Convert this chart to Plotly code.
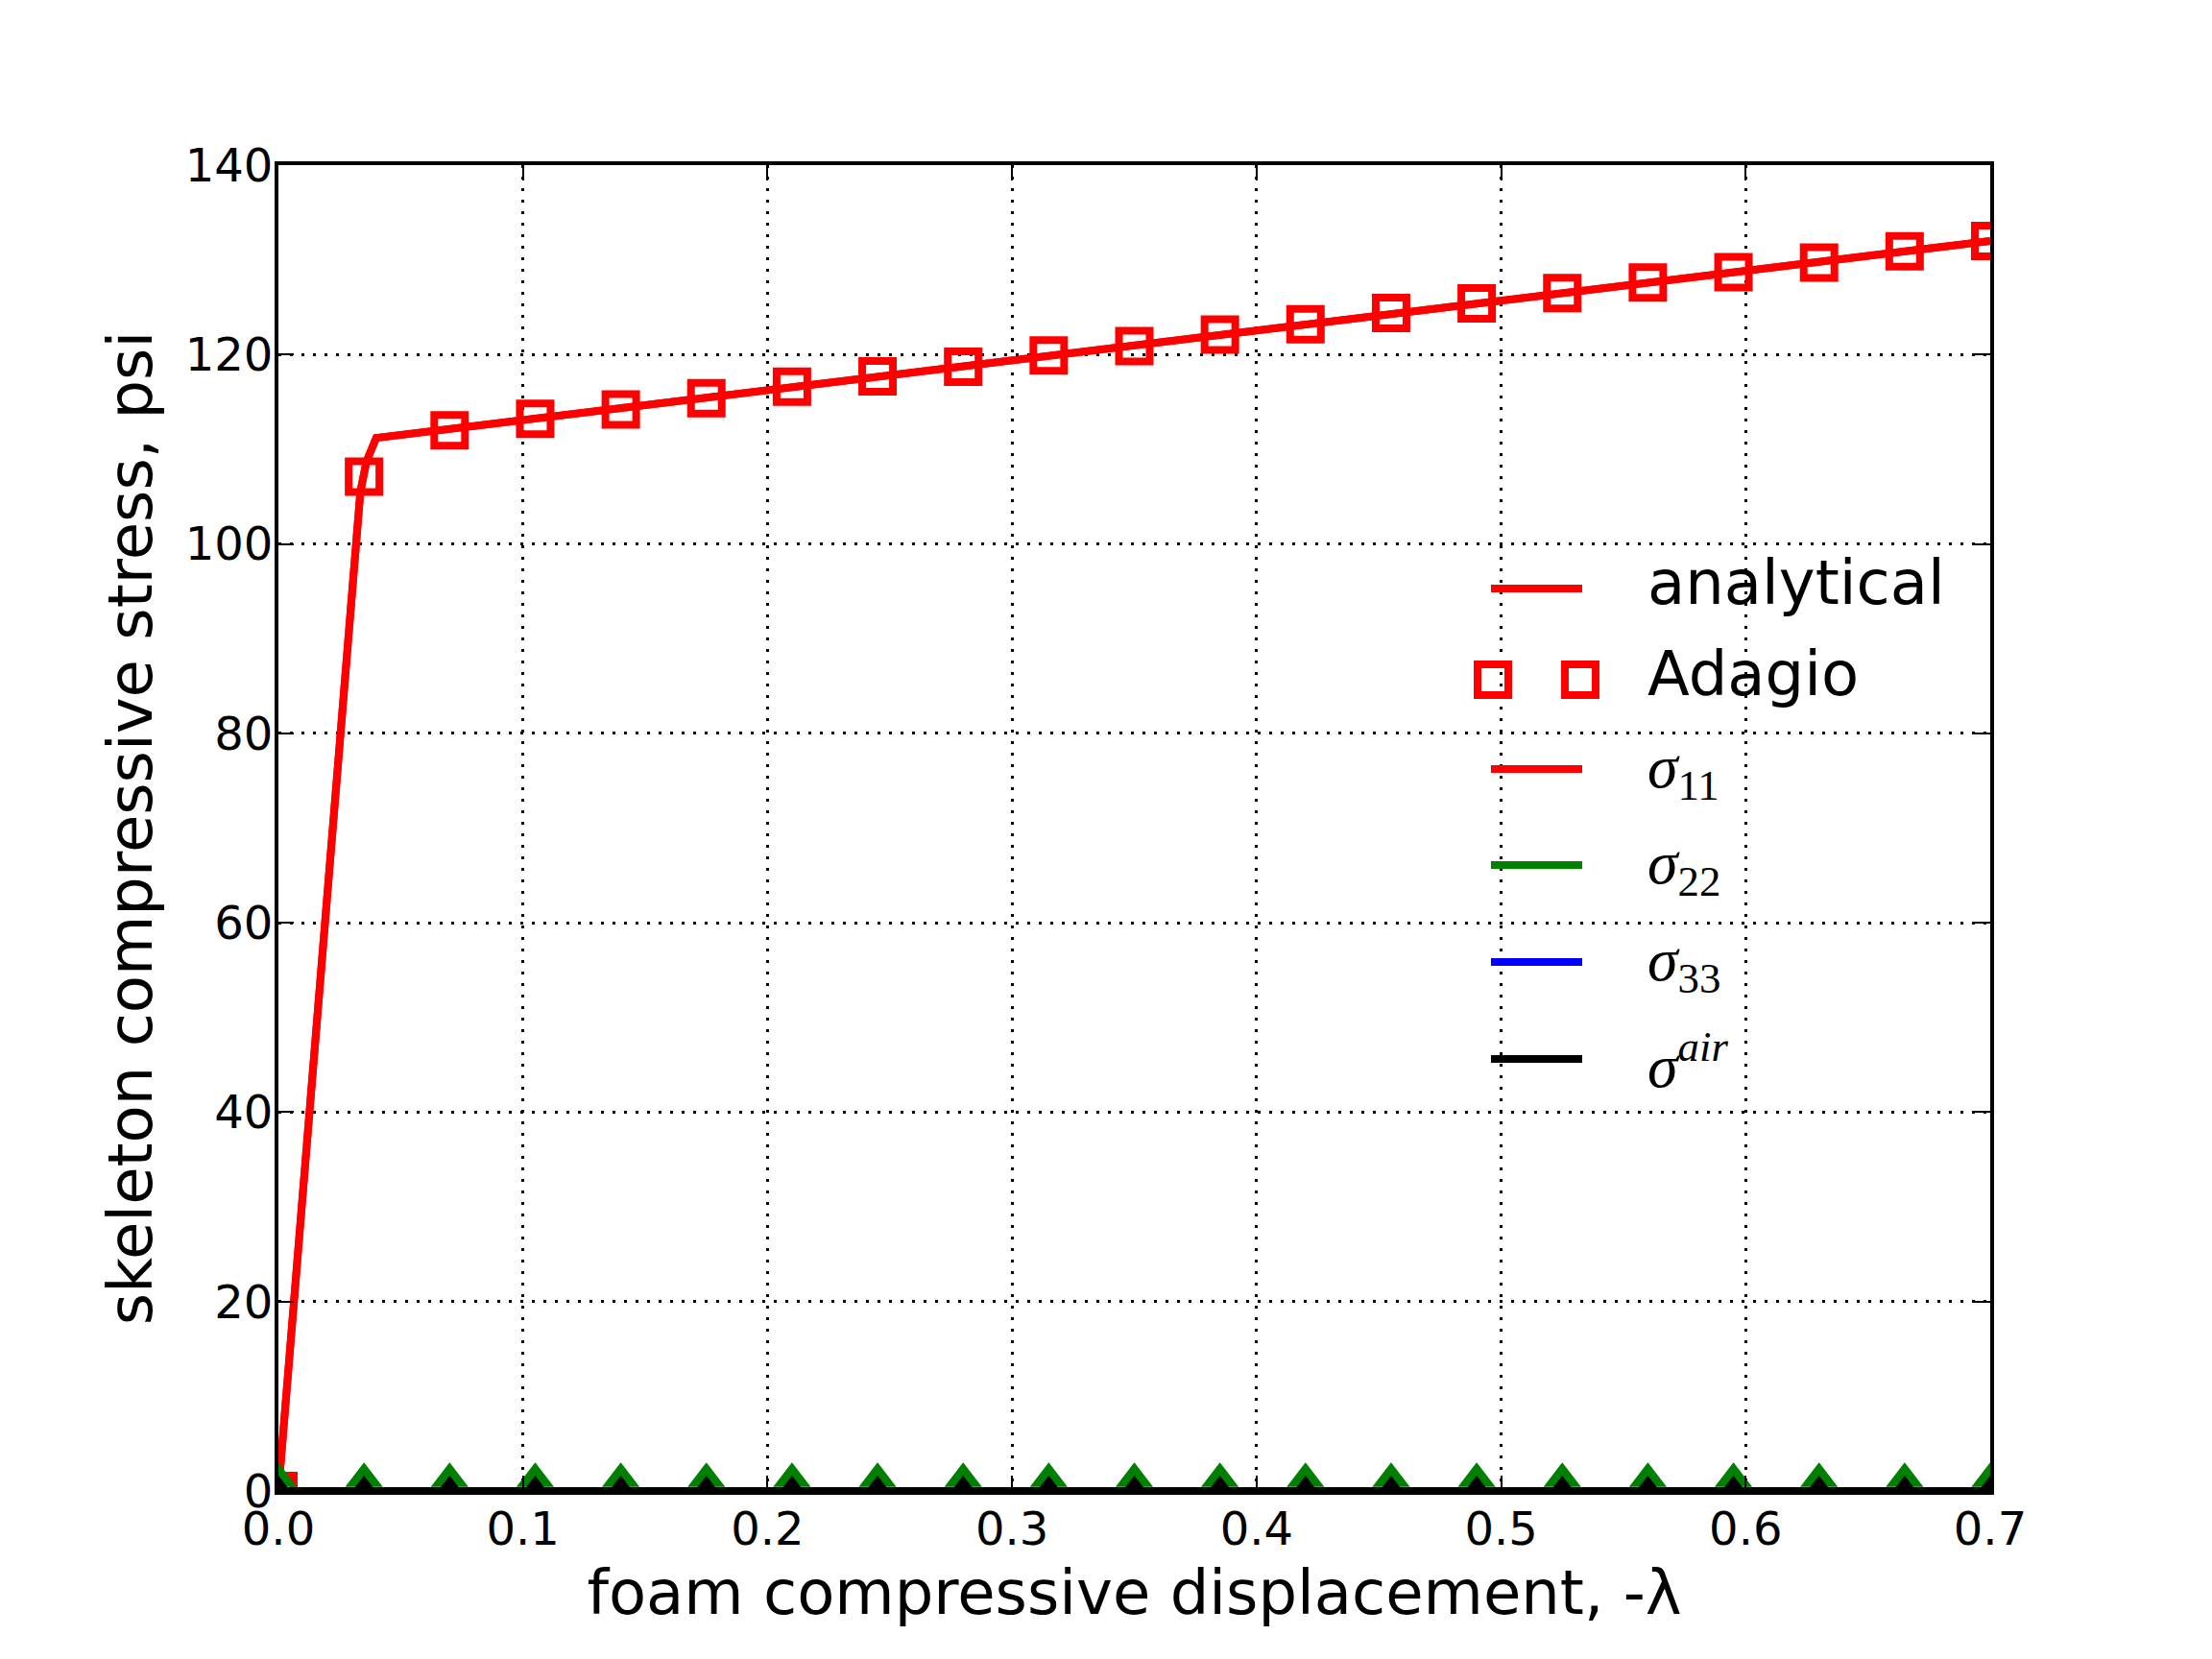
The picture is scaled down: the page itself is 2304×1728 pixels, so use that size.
import plotly.graph_objects as go

# ---------------- data ----------------
x_analytical = [0.0, 0.0335, 0.036, 0.040, 0.70]
y_analytical = [0.0, 105.5, 108.7, 111.2, 132.0]

x_adagio = [0.0, 0.035, 0.07, 0.105, 0.14, 0.175, 0.21, 0.245, 0.28, 0.315, 0.35,
            0.385, 0.42, 0.455, 0.49, 0.525, 0.56, 0.595, 0.63, 0.665, 0.70]
y_adagio = [0.0, 107.1, 112.0, 113.2, 114.2, 115.4, 116.6, 117.7, 118.7, 119.9, 120.9,
            122.1, 123.2, 124.4, 125.4, 126.5, 127.6, 128.7, 129.7, 130.9, 132.0]

y_sigma22 = [0.0] * 21
y_sigma33 = [0.0] * 21
y_sigma_air = [0.0] * 21
y_sigma22_pts = [1.3, 1.3, 1.3, 1.3, 1.3, 1.3, 1.3, 1.3, 1.3, 1.3, 1.3,
                 1.3, 1.3, 1.3, 1.3, 1.3, 1.3, 1.3, 1.3, 1.3, 1.3]
y_air_pts = [0.0, 0.0, 0.0, 0.0, 0.0, 0.0, 0.0, 0.0, 0.0, 0.0, 0.0,
             0.0, 0.0, 0.0, 0.0, 0.0, 0.0, 0.0, 0.0, 0.0, 0.0]

x_ticks = [0.0, 0.1, 0.2, 0.3, 0.4, 0.5, 0.6, 0.7]
y_ticks = [0, 20, 40, 60, 80, 100, 120, 140]

legend_labels = ["analytical", "Adagio", "<i>σ</i><sub>11</sub>", "<i>σ</i><sub>22</sub>",
                 "<i>σ</i><sub>33</sub>", "<i>σ</i><sup><i>air</i></sup>"]

RED, GREEN, BLUE, BLACK = "#ff0000", "#008000", "#0000ff", "#000000"

fig = go.Figure()
fig.add_trace(go.Scatter(x=x_analytical, y=y_analytical, mode="lines",
                         line=dict(color=RED, width=8), name="analytical"))
fig.add_trace(go.Scatter(x=x_adagio, y=y_adagio, mode="markers", name="Adagio",
                         marker=dict(symbol="square-open", size=32, color=RED,
                                     line=dict(color=RED, width=8))))
fig.add_trace(go.Scatter(x=x_analytical, y=y_analytical, mode="lines",
                         line=dict(color=RED, width=8), name="σ11"))
fig.add_trace(go.Scatter(x=x_adagio, y=y_sigma22, mode="lines",
                         line=dict(color=GREEN, width=8), name="σ22"))
fig.add_trace(go.Scatter(x=x_adagio, y=y_sigma22_pts, mode="markers",
                         marker=dict(symbol="triangle-up", size=34, color=GREEN,
                                     line=dict(width=0)), name="σ22 pts"))
fig.add_trace(go.Scatter(x=x_adagio, y=y_sigma33, mode="lines",
                         line=dict(color=BLUE, width=8), name="σ33"))
fig.add_trace(go.Scatter(x=x_adagio, y=y_air_pts, mode="markers",
                         marker=dict(symbol="triangle-up", size=32, color=BLACK,
                                     line=dict(width=0)), name="air pts"))
fig.add_trace(go.Scatter(x=x_adagio, y=y_sigma_air, mode="lines",
                         line=dict(color=BLACK, width=8), name="σair"))

# ---------------- layout (page has an 8px body margin) ----------------
OFF = 8
PL, PR, PT, PB = 290, 2073, 172, 1553          # plot area in page pixels
L, T = PL - OFF, PT - OFF
R = 2304 - (PR - OFF)
B = 1728 - (PB - OFF)
W, H = PR - PL, PB - PT


def xp(px):
    return (px - PL) / W


def yp(py):
    return (PB - py) / H


# ---------------- custom legend (matplotlib style) ----------------
rows_py = [613, 708, 801, 901, 1002, 1103]
colors = [RED, None, RED, GREEN, BLUE, BLACK]
shapes = []
annotations = []
for i, (lab, col, py) in enumerate(zip(legend_labels, colors, rows_py)):
    if col is not None:
        shapes.append(dict(type="line", xref="paper", yref="paper",
                           x0=xp(1553), x1=xp(1648), y0=yp(py), y1=yp(py),
                           line=dict(color=col, width=8)))
    else:
        for cx in (1555, 1646):
            shapes.append(dict(type="rect", xref="paper", yref="paper",
                               x0=xp(cx - 16), x1=xp(cx + 16),
                               y0=yp(py + 16), y1=yp(py - 16),
                               line=dict(color=RED, width=8), fillcolor="rgba(0,0,0,0)"))
    if i < 2:
        font = dict(family="DejaVu Sans", size=64, color="black")
        yoff = -6
    else:
        font = dict(family="Liberation Serif", size=64, color="black")
        yoff = 2
    annotations.append(dict(text=lab, xref="paper", yref="paper", x=xp(1714),
                            y=yp(py + yoff), xanchor="left", yanchor="middle",
                            showarrow=False, font=font))

axis_common = dict(
    showline=True, linecolor="black", linewidth=4, mirror="ticks",
    ticks="inside", ticklen=16, tickwidth=2, tickcolor="black",
    showgrid=True, gridcolor="black", gridwidth=2.5, griddash="3px,9px",
    zeroline=False,
    tickfont=dict(family="DejaVu Sans", size=48, color="black"),
)

fig.update_layout(
    width=2304, height=1728,
    margin=dict(l=L, r=R, t=T, b=B),
    paper_bgcolor="white", plot_bgcolor="white",
    showlegend=False,
    shapes=shapes, annotations=annotations,
    xaxis=dict(range=[0, 0.7], tickvals=x_ticks, tickformat=".1f",
               ticklabelstandoff=-6,
               title=dict(text="foam compressive displacement, -λ",
                          font=dict(family="DejaVu Sans", size=64, color="black"),
                          standoff=19),
               **axis_common),
    yaxis=dict(range=[0, 140], tickvals=y_ticks, ticklabelstandoff=-8,
               title=dict(text="skeleton compressive stress, psi",
                          font=dict(family="DejaVu Sans", size=64, color="black"),
                          standoff=14),
               **axis_common),
)

fig.write_html("out.html")
